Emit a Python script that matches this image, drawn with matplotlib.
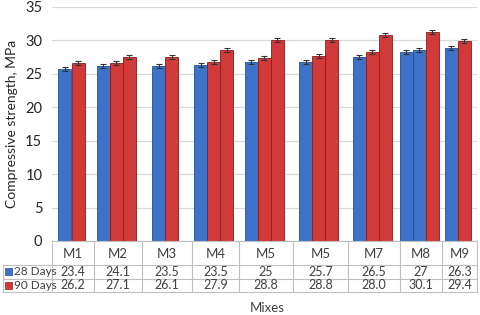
import numpy as np
import matplotlib
matplotlib.use('Agg')
import matplotlib.pyplot as plt
from matplotlib.patches import Rectangle

plt.rcParams['font.family'] = ['Lato', 'DejaVu Sans']

# data
mixes = ['M1', 'M2', 'M3', 'M4', 'M5', 'M5', 'M7', 'M8', 'M9']
days28_table = ['23.4', '24.1', '23.5', '23.5', '25', '25.7', '26.5', '27', '26.3']
days90_table = ['26.2', '27.1', '26.1', '27.9', '28.8', '28.8', '28.0', '30.1', '29.4']
# bars drawn in each group: which series and how tall
bar_series = [['28', '90'], ['28', '90', '90'], ['28', '90'], ['28', '90', '90'],
              ['28', '90', '90'], ['28', '90', '90'], ['28', '90', '90'],
              ['28', '28', '90'], ['28', '90']]
bar_heights = [[25.7, 26.6], [26.2, 26.6, 27.5], [26.2, 27.45], [26.3, 26.8, 28.5],
               [26.7, 27.3, 30.0], [26.7, 27.6, 30.0], [27.5, 28.3, 30.8],
               [28.2, 28.6, 31.3], [28.9, 29.9]]
bar_err = 0.3

# layout (pixels)
col_edges = [52, 94, 142, 192, 239, 293, 348, 400, 442, 477]
bar_w = 13
face = {'28': '#3E72C8', '90': '#D23A3A'}
edge = {'28': '#24508F', '90': '#8A1C1C'}

fig = plt.figure(figsize=(4.8, 3.15), dpi=100)
W, H = 480, 315
y0, y35 = 241, 7
ax = fig.add_axes([col_edges[0] / W, 1 - y0 / H, (col_edges[-1] - col_edges[0]) / W, (y0 - y35) / H])

for i in range(len(mixes)):
    n = len(bar_heights[i])
    c = (col_edges[i] + col_edges[i + 1]) / 2 - 1.5
    for k in range(n):
        s = bar_series[i][k]
        x = c + (k - (n - 1) / 2) * bar_w
        ax.bar(x, bar_heights[i][k], width=bar_w, color=face[s], edgecolor=edge[s],
               linewidth=0.6, zorder=3)
        ax.errorbar(x, bar_heights[i][k], yerr=bar_err, fmt='none', ecolor='#333333',
                    elinewidth=0.8, capsize=2, capthick=0.8, zorder=4)

ax.set_xlim(col_edges[0], col_edges[-1])
ax.set_ylim(0, 35)
ax.set_yticks(np.arange(0, 36, 5))
ax.set_xticks([])
ax.tick_params(axis='y', length=0, labelsize=10.5, labelcolor='#262626', pad=7)
ax.grid(axis='y', color='#D9D9D9', linewidth=0.9, zorder=0)
for sp in ax.spines.values():
    sp.set_visible(False)
ax.set_ylabel('Compressive strength, MPa', fontsize=10, color='#262626')
ax.yaxis.set_label_coords(-34 / 425, 0.5)

# data table under the chart
tb = fig.add_axes([0, 0, 1, 1])
tb.set_xlim(0, W)
tb.set_ylim(H, 0)
tb.axis('off')
lc = '#BFBFBF'
row_y = [241, 265, 278.5, 292]
tb.plot([col_edges[0], col_edges[-1]], [row_y[0], row_y[0]], color=lc, lw=0.8)
for yy in row_y[1:]:
    tb.plot([3, col_edges[-1]], [yy, yy], color=lc, lw=0.8)
for xx in col_edges:
    tb.plot([xx, xx], [row_y[0], row_y[-1]], color=lc, lw=0.8)
tb.plot([3, 3], [row_y[1], row_y[-1]], color=lc, lw=0.8)

tc = '#404040'
for i in range(len(mixes)):
    cx = (col_edges[i] + col_edges[i + 1]) / 2
    tb.text(cx, (row_y[0] + row_y[1]) / 2 + 1, mixes[i], ha='center', va='center', fontsize=9.5, color=tc)
    tb.text(cx, (row_y[1] + row_y[2]) / 2, days28_table[i], ha='center', va='center', fontsize=9, color=tc)
    tb.text(cx, (row_y[2] + row_y[3]) / 2, days90_table[i], ha='center', va='center', fontsize=9, color=tc)

for r, (s, lab) in enumerate([('28', '28 Days'), ('90', '90 Days')]):
    yc = (row_y[r + 1] + row_y[r + 2]) / 2
    tb.add_patch(Rectangle((5, yc - 3.5), 7, 7, facecolor=face[s], edgecolor=edge[s], lw=0.5))
    tb.text(13.5, yc, lab, ha='left', va='center', fontsize=8.5, color=tc)

tb.text(267, 308, 'Mixes', ha='center', va='center', fontsize=9.5, color=tc)

fig.savefig('out.png', dpi=100)
